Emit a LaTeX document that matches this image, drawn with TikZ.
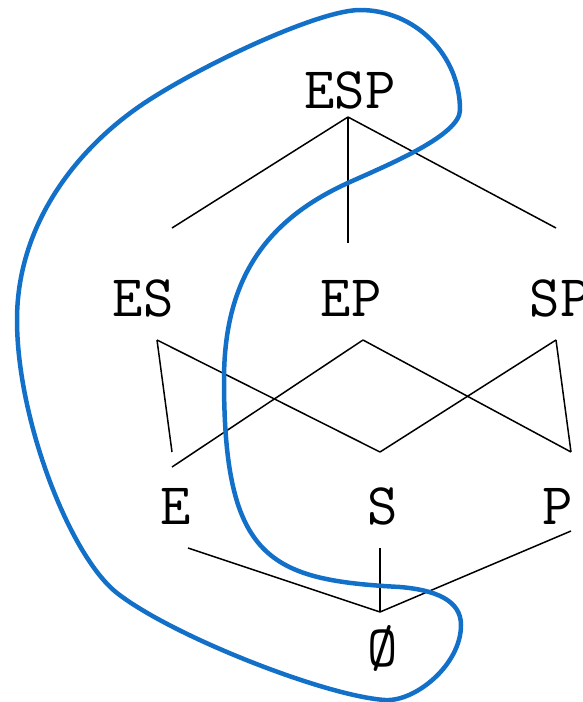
\documentclass[tikz,border=0pt]{standalone}
\usepackage{fontspec}
\usepackage{tikz}
\usetikzlibrary{positioning}
\definecolor{loopblue}{RGB}{18,112,200}

\begin{document}
\begin{tikzpicture}[x=1pt, y=-1pt,
    set/.style = {font=\ttfamily\fontsize{59}{59}\selectfont, inner sep=0pt},
    link/.style = {draw, line width=1.5pt},
    region/.style = {draw=loopblue, line width=4.5pt}]
    \useasboundingbox (0,0) rectangle (583,702);

    \node[set] (ESP) at (350,90) {ESP};
    \node[set] (ES) at (143,298) {ES};
    \node[set] (EP) at (351,298) {EP};
    \node[set] (SP) at (560,298) {SP};
    \node[set] (E) at (176,506) {E};
    \node[set] (S) at (383,506) {S};
    \node[set] (P) at (558,506) {P};
    \node[set] (O) at (383,648) {Ø};

    % top level
    \path[link] ([shift={(-2,27)}]ESP.center) -- ([shift={(29,-70)}]ES.center);
    \path[link] ([shift={(-2,27)}]ESP.center) -- ([shift={(-3,-55)}]EP.center);
    \path[link] ([shift={(-2,27)}]ESP.center) -- ([shift={(-4,-70)}]SP.center);
    % pairs to singletons
    \path[link] ([shift={(14,42)}]ES.center) -- ([shift={(-4,-54)}]E.center);
    \path[link] ([shift={(14,42)}]ES.center) -- ([shift={(-3,-54)}]S.center);
    \path[link] ([shift={(12,42)}]EP.center) -- ([shift={(-4,-39)}]E.center);
    \path[link] ([shift={(12,42)}]EP.center) -- ([shift={(13,-54)}]P.center);
    \path[link] ([shift={(-4,42)}]SP.center) -- ([shift={(-3,-54)}]S.center);
    \path[link] ([shift={(-4,42)}]SP.center) -- ([shift={(13,-54)}]P.center);
    % singletons to empty set
    \path[link] ([shift={(12,42)}]E.center) -- ([shift={(-3,-36)}]O.center);
    \path[link] ([shift={(-3,42)}]S.center) -- ([shift={(-3,-36)}]O.center);
    \path[link] ([shift={(13,25)}]P.center) -- ([shift={(-3,-36)}]O.center);

    % the loop round the upper sets
    \draw[region] (360,10)
        .. controls (415,10) and (460,55) .. (460,110)
        .. controls (460,135) and (390,164) .. (350,182)
        .. controls (265,220) and (224,280) .. (224,380)
        .. controls (224,560) and (270,580) .. (400,587)
        .. controls (435,590) and (461,600) .. (461,625)
        .. controls (461,665) and (415,702) .. (385,700)
        .. controls (325,696) and (172,636) .. (117,593)
        .. controls (70,556) and (17,420) .. (17,320)
        .. controls (17,220) and (82,143) .. (149,100)
        .. controls (208,62) and (320,10) .. cycle;
\end{tikzpicture}
\end{document}
